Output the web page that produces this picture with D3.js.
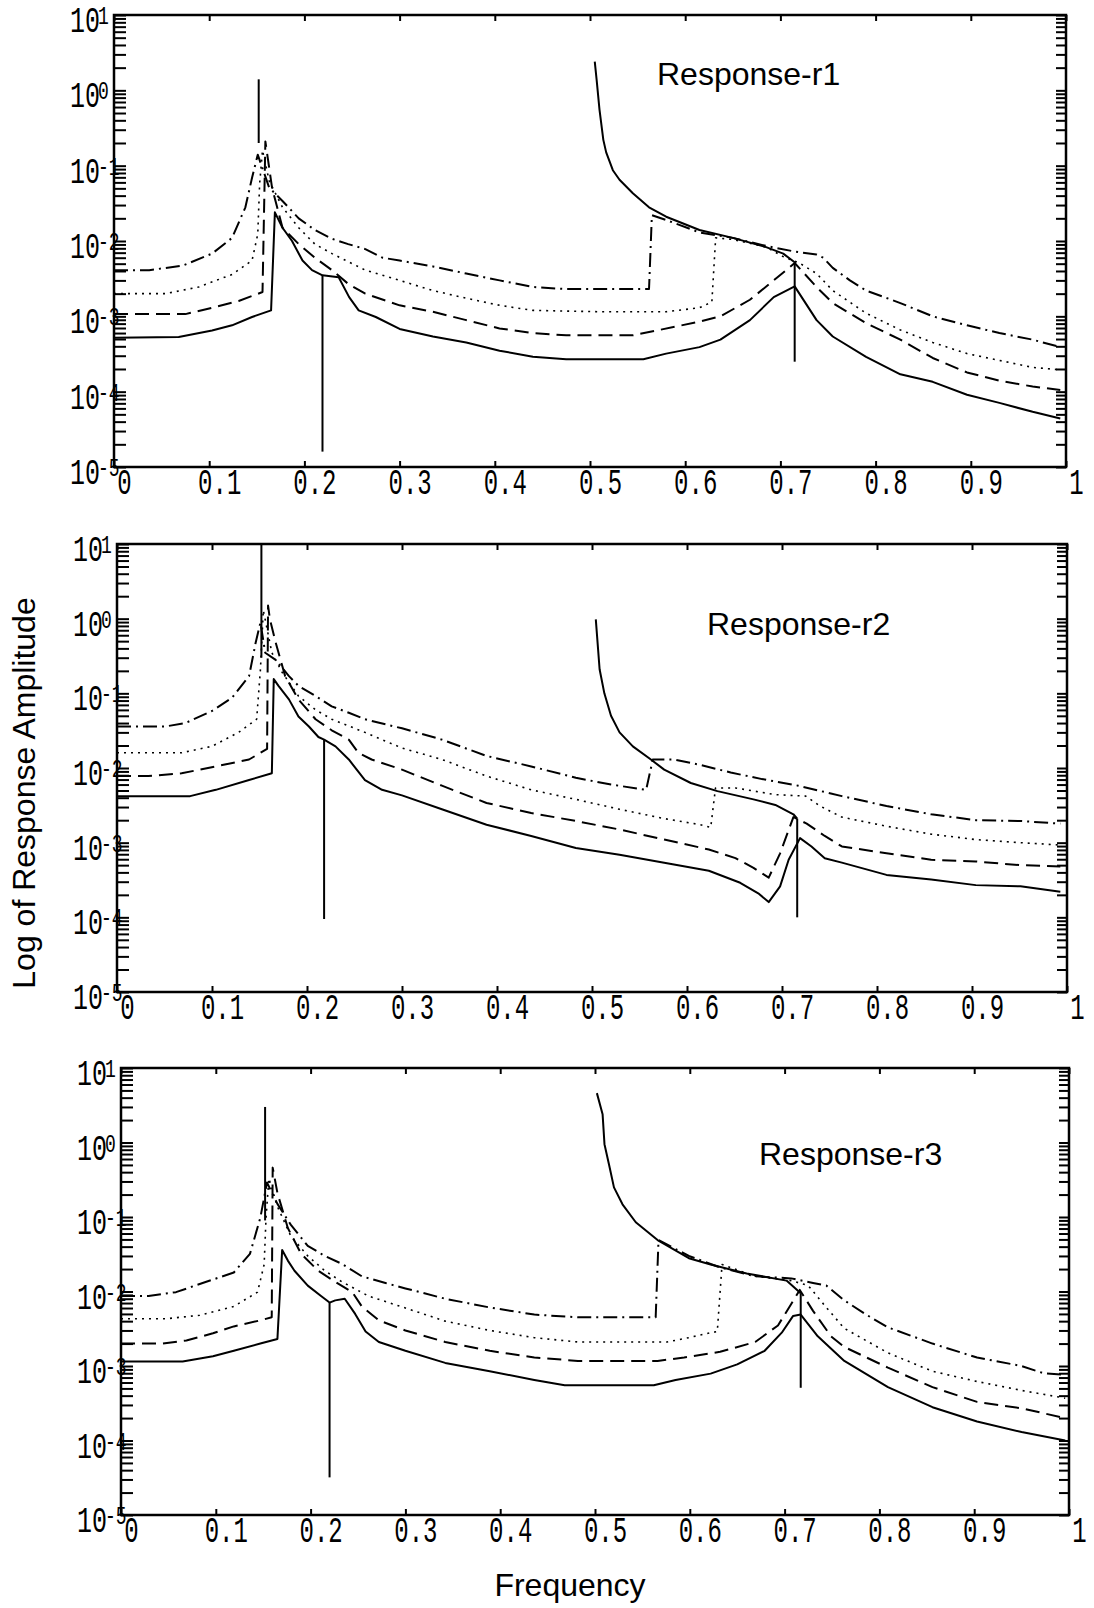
<!DOCTYPE html>
<html>
<head>
<meta charset="utf-8">
<script src="https://cdn.jsdelivr.net/npm/d3@7"></script>
<style>
  body { margin: 0; background: #fff; }
</style>
</head>
<body>
<div id="chart-area"></div>
<script>
/*
*    three response spectra, log amplitude vs frequency
*/

var xTicks = [0, 0.1, 0.2, 0.3, 0.4, 0.5, 0.6, 0.7, 0.8, 0.9, 1];
var xTickLabels = ["0", "0.1", "0.2", "0.3", "0.4", "0.5", "0.6", "0.7", "0.8", "0.9", "1"];
var yDecades = [10, 1, 0.1, 0.01, 0.001, 0.0001, 0.00001];
var yExponents = ["1", "0", "-1", "-2", "-3", "-4", "-5"];
var panelTitles = ["Response-r1", "Response-r2", "Response-r3"];

// [frequency, amplitude]
var r1Solid = [[0,5.2e-4],[0.068,5.3e-4],[0.103,6.5e-4],[0.124,7.6e-4],[0.145,9.8e-4],[0.165,1.2e-3],[0.169,2.4e-2],[0.177,1.5e-2],[0.187,1.0e-2],[0.198,5.5e-3],[0.208,4.1e-3],[0.219,3.5e-3],[0.236,3.3e-3],[0.247,1.8e-3],[0.257,1.2e-3],[0.275,9.8e-4],[0.3,6.8e-4],[0.335,5.4e-4],[0.37,4.5e-4],[0.405,3.5e-4],[0.44,2.9e-4],[0.475,2.7e-4],[0.51,2.7e-4],[0.556,2.7e-4],[0.58,3.2e-4],[0.615,3.9e-4],[0.637,4.9e-4],[0.668,8.9e-4],[0.693,1.8e-3],[0.715,2.5e-3],[0.738,8.9e-4],[0.755,5.4e-4],[0.79,2.9e-4],[0.826,1.7e-4],[0.86,1.35e-4],[0.896,9.1e-5],[0.93,7.1e-5],[0.965,5.4e-5],[0.994,4.4e-5]];
var r1Dashed = [[0,1.07e-3],[0.075,1.07e-3],[0.103,1.3e-3],[0.131,1.6e-3],[0.156,2.1e-3],[0.159,0.21],[0.166,5.1e-2],[0.177,1.5e-2],[0.194,9.1e-3],[0.211,6.0e-3],[0.229,4.1e-3],[0.246,2.7e-3],[0.264,2.0e-3],[0.3,1.4e-3],[0.335,1.15e-3],[0.37,8.9e-4],[0.405,6.9e-4],[0.44,6.0e-4],[0.475,5.6e-4],[0.545,5.6e-4],[0.573,6.6e-4],[0.615,8.5e-4],[0.637,1.0e-3],[0.668,1.66e-3],[0.693,3.0e-3],[0.715,5.1e-3],[0.738,2.45e-3],[0.755,1.5e-3],[0.79,8.1e-4],[0.826,4.9e-4],[0.86,2.8e-4],[0.896,1.8e-4],[0.93,1.4e-4],[0.965,1.17e-4],[0.994,1.05e-4]];
var r1Dotted = [[0,2.0e-3],[0.054,2.0e-3],[0.089,2.45e-3],[0.124,3.6e-3],[0.145,5.5e-3],[0.151,1.23e-2],[0.153,5.8e-2],[0.156,0.16],[0.163,6.3e-2],[0.177,2.8e-2],[0.194,1.5e-2],[0.211,9.1e-3],[0.229,6.8e-3],[0.264,4.1e-3],[0.3,3.0e-3],[0.335,2.2e-3],[0.37,1.74e-3],[0.405,1.4e-3],[0.44,1.2e-3],[0.51,1.15e-3],[0.58,1.15e-3],[0.615,1.3e-3],[0.628,1.55e-3],[0.632,1.1e-2],[0.65,1.05e-2],[0.685,8.3e-3],[0.703,6.2e-3],[0.72,5.1e-3],[0.738,3.7e-3],[0.755,2.2e-3],[0.79,1.1e-3],[0.826,6.6e-4],[0.86,4.5e-4],[0.896,3.2e-4],[0.93,2.6e-4],[0.965,2.1e-4],[0.994,1.95e-4]];
var r1DashDot = [[0,4.1e-3],[0.037,4.1e-3],[0.072,4.7e-3],[0.103,6.8e-3],[0.124,1.1e-2],[0.138,2.8e-2],[0.145,6.9e-2],[0.151,0.14],[0.163,5.1e-2],[0.177,3.4e-2],[0.194,2.0e-2],[0.211,1.4e-2],[0.229,1.07e-2],[0.246,9.1e-3],[0.264,7.8e-3],[0.282,6.0e-3],[0.3,5.5e-3],[0.335,4.6e-3],[0.37,3.7e-3],[0.405,3.0e-3],[0.44,2.45e-3],[0.475,2.3e-3],[0.562,2.3e-3],[0.565,2.2e-2],[0.58,1.9e-2],[0.615,1.3e-2],[0.65,1.1e-2],[0.685,8.6e-3],[0.716,7.2e-3],[0.738,6.6e-3],[0.745,6.0e-3],[0.755,4.4e-3],[0.773,3.0e-3],[0.79,2.2e-3],[0.826,1.5e-3],[0.86,1.0e-3],[0.896,7.6e-4],[0.93,6.0e-4],[0.965,4.9e-4],[0.994,3.9e-4]];
var r1Branch = [[0.505,2.4],[0.507,1.37],[0.51,0.55],[0.514,0.22],[0.517,0.15],[0.524,8.7e-2],[0.531,6.5e-2],[0.545,4.3e-2],[0.562,2.8e-2],[0.58,2.1e-2],[0.615,1.4e-2],[0.65,1.1e-2],[0.685,8.3e-3],[0.703,6.8e-3],[0.716,5.1e-3]];
// [frequency, top, bottom]
var r1Spikes = [[0.152,1.4,0.2],[0.219,3.5e-3,1.6e-5],[0.715,5.1e-3,2.5e-4]];

var r2Solid = [[0,4.2e-3],[0.077,4.2e-3],[0.104,5.1e-3],[0.139,6.9e-3],[0.163,8.5e-3],[0.165,0.155],[0.17,0.126],[0.181,8.3e-2],[0.191,4.9e-2],[0.202,3.6e-2],[0.212,2.6e-2],[0.218,2.4e-2],[0.23,1.95e-2],[0.244,1.3e-2],[0.261,6.9e-3],[0.279,5.1e-3],[0.3,4.3e-3],[0.342,2.8e-3],[0.389,1.74e-3],[0.436,1.23e-3],[0.483,8.5e-4],[0.529,6.9e-4],[0.576,5.4e-4],[0.623,4.2e-4],[0.656,2.9e-4],[0.675,2.1e-4],[0.686,1.6e-4],[0.698,2.6e-4],[0.707,5.9e-4],[0.719,1.15e-3],[0.731,8.9e-4],[0.745,6.2e-4],[0.763,5.4e-4],[0.81,3.7e-4],[0.857,3.2e-4],[0.904,2.7e-4],[0.951,2.6e-4],[0.993,2.2e-4]];
var r2Dashed = [[0,7.8e-3],[0.033,7.8e-3],[0.068,8.5e-3],[0.104,1.05e-2],[0.139,1.3e-2],[0.158,1.8e-2],[0.159,1.5],[0.161,0.98],[0.167,0.48],[0.177,0.17],[0.191,8.3e-2],[0.209,4.5e-2],[0.226,3.2e-2],[0.244,2.4e-2],[0.254,1.6e-2],[0.268,1.3e-2],[0.3,9.5e-3],[0.342,5.8e-3],[0.389,3.4e-3],[0.436,2.5e-3],[0.483,1.95e-3],[0.529,1.5e-3],[0.576,1.1e-3],[0.623,8.1e-4],[0.651,6.2e-4],[0.67,4.6e-4],[0.686,3.4e-4],[0.698,7.2e-4],[0.712,2.2e-3],[0.726,1.8e-3],[0.745,1.23e-3],[0.763,8.9e-4],[0.81,7.2e-4],[0.857,5.9e-4],[0.904,5.6e-4],[0.951,5.0e-4],[0.993,4.8e-4]];
var r2Dotted = [[0,1.6e-2],[0.068,1.6e-2],[0.1,1.95e-2],[0.128,3.0e-2],[0.147,4.5e-2],[0.151,0.21],[0.154,1.3],[0.163,0.35],[0.174,0.19],[0.191,9.2e-2],[0.209,6.0e-2],[0.226,4.5e-2],[0.261,3.0e-2],[0.3,1.85e-2],[0.342,1.3e-2],[0.389,7.8e-3],[0.436,5.1e-3],[0.483,3.8e-3],[0.529,2.8e-3],[0.576,2.1e-3],[0.614,1.74e-3],[0.625,1.6e-3],[0.63,5.4e-3],[0.651,5.4e-3],[0.693,4.4e-3],[0.725,4.2e-3],[0.74,3.1e-3],[0.763,2.2e-3],[0.81,1.66e-3],[0.857,1.3e-3],[0.904,1.1e-3],[0.951,1.0e-3],[0.993,9.3e-4]];
var r2DashDot = [[0,3.6e-2],[0.051,3.6e-2],[0.072,4.0e-2],[0.1,5.8e-2],[0.121,8.7e-2],[0.139,0.17],[0.146,0.48],[0.151,0.89],[0.156,0.35],[0.167,0.28],[0.181,0.17],[0.191,0.126],[0.209,9.2e-2],[0.226,6.7e-2],[0.244,5.5e-2],[0.261,4.5e-2],[0.3,3.4e-2],[0.342,2.4e-2],[0.389,1.45e-2],[0.436,1.05e-2],[0.483,7.4e-3],[0.52,6.0e-3],[0.557,5.1e-3],[0.564,1.3e-2],[0.586,1.3e-2],[0.614,1.1e-2],[0.646,8.7e-3],[0.679,7.1e-3],[0.717,5.8e-3],[0.763,4.2e-3],[0.81,3.1e-3],[0.857,2.4e-3],[0.904,2.0e-3],[0.951,1.95e-3],[0.993,1.8e-3]];
var r2Branch = [[0.504,0.98],[0.508,0.21],[0.513,0.10],[0.52,5.0e-2],[0.529,3.0e-2],[0.543,1.95e-2],[0.562,1.3e-2],[0.576,9.5e-3],[0.604,6.3e-3],[0.632,4.9e-3],[0.67,3.8e-3],[0.693,3.2e-3],[0.712,2.4e-3],[0.716,2.1e-3]];
var r2Spikes = [[0.152,10,0.3],[0.218,2.4e-2,9.5e-5],[0.716,2.1e-3,1.0e-4]];

var r3Solid = [[0,1.15e-3],[0.065,1.15e-3],[0.097,1.35e-3],[0.119,1.6e-3],[0.147,2.0e-3],[0.165,2.3e-3],[0.17,3.6e-2],[0.176,2.6e-2],[0.183,1.9e-2],[0.197,1.2e-2],[0.211,8.7e-3],[0.22,7.1e-3],[0.226,7.6e-3],[0.236,8.0e-3],[0.247,5.0e-3],[0.258,2.9e-3],[0.272,2.1e-3],[0.3,1.6e-3],[0.342,1.1e-3],[0.389,8.5e-4],[0.436,6.5e-4],[0.468,5.5e-4],[0.562,5.5e-4],[0.585,6.5e-4],[0.622,7.9e-4],[0.65,1.05e-3],[0.679,1.6e-3],[0.697,2.8e-3],[0.709,4.7e-3],[0.717,4.9e-3],[0.735,2.5e-3],[0.763,1.17e-3],[0.809,5.2e-4],[0.856,2.8e-4],[0.903,1.8e-4],[0.95,1.3e-4],[0.996,1.0e-4]];
var r3Dashed = [[0,2.0e-3],[0.044,2.0e-3],[0.069,2.2e-3],[0.097,2.75e-3],[0.119,3.4e-3],[0.147,4.1e-3],[0.159,4.5e-3],[0.16,0.46],[0.165,0.21],[0.176,7.1e-2],[0.19,3.2e-2],[0.208,1.9e-2],[0.226,1.35e-2],[0.244,9.8e-3],[0.254,6.3e-3],[0.272,4.1e-3],[0.3,3.0e-3],[0.342,2.1e-3],[0.389,1.6e-3],[0.436,1.3e-3],[0.482,1.17e-3],[0.566,1.17e-3],[0.594,1.3e-3],[0.632,1.55e-3],[0.669,2.1e-3],[0.693,3.5e-3],[0.707,6.8e-3],[0.716,1.05e-2],[0.73,5.5e-3],[0.749,2.5e-3],[0.763,1.8e-3],[0.809,9.5e-4],[0.856,5.2e-4],[0.903,3.3e-4],[0.95,2.7e-4],[0.996,2.0e-4]];
var r3Dotted = [[0,4.3e-3],[0.047,4.3e-3],[0.083,4.8e-3],[0.119,6.3e-3],[0.144,9.8e-3],[0.151,2.3e-2],[0.153,9.8e-2],[0.156,0.33],[0.165,0.138],[0.179,5.6e-2],[0.197,3.0e-2],[0.215,1.9e-2],[0.233,1.35e-2],[0.261,8.7e-3],[0.3,6.0e-3],[0.342,4.0e-3],[0.389,3.0e-3],[0.436,2.4e-3],[0.482,2.1e-3],[0.576,2.1e-3],[0.599,2.4e-3],[0.622,2.8e-3],[0.629,2.9e-3],[0.634,2.3e-2],[0.669,1.6e-2],[0.707,1.4e-2],[0.725,1.2e-2],[0.744,6.1e-3],[0.763,3.2e-3],[0.809,1.5e-3],[0.856,8.5e-4],[0.903,6.2e-4],[0.95,4.7e-4],[0.996,3.7e-4]];
var r3DashDot = [[0,8.7e-3],[0.029,8.7e-3],[0.058,9.8e-3],[0.09,1.35e-2],[0.119,1.8e-2],[0.136,3.2e-2],[0.147,9.8e-2],[0.154,0.29],[0.165,0.15],[0.179,7.9e-2],[0.197,4.1e-2],[0.215,3.0e-2],[0.233,2.35e-2],[0.254,1.6e-2],[0.279,1.3e-2],[0.3,1.1e-2],[0.342,8.0e-3],[0.389,6.1e-3],[0.436,4.9e-3],[0.482,4.5e-3],[0.564,4.5e-3],[0.567,4.9e-2],[0.599,3.0e-2],[0.632,2.1e-2],[0.669,1.6e-2],[0.707,1.5e-2],[0.73,1.3e-2],[0.744,1.2e-2],[0.763,7.6e-3],[0.786,4.9e-3],[0.809,3.3e-3],[0.856,2.0e-3],[0.903,1.3e-3],[0.95,1.0e-3],[0.973,8.0e-4],[0.996,7.6e-4]];
var r3Branch = [[0.502,4.6],[0.508,2.4],[0.51,0.95],[0.515,0.49],[0.52,0.25],[0.529,0.148],[0.543,8.5e-2],[0.566,4.9e-2],[0.599,2.8e-2],[0.622,2.3e-2],[0.66,1.74e-2],[0.702,1.4e-2],[0.717,9.5e-3]];
var r3Spikes = [[0.152,3.0,0.09],[0.22,7.1e-3,3.2e-5],[0.717,9.5e-3,5.1e-4]];

var w = 1094;
var h = 1608;

var boxes = [
    { left: 114, top: 15, width: 952, height: 452, tx: 543, ty: 70 },
    { left: 117, top: 544, width: 950, height: 448, tx: 590, ty: 91 },
    { left: 121, top: 1068, width: 948, height: 447, tx: 638, ty: 97 }
];

var styles = {
    solid: { dash: null, width: 2 },
    dashed: { dash: "14,7", width: 2 },
    dotted: { dash: "2,5", width: 1.6 },
    dashdot: { dash: "14,5,2,5", width: 2 }
};

var panels = [
    { series: [["dashdot", r1DashDot], ["dotted", r1Dotted], ["dashed", r1Dashed], ["solid", r1Solid], ["solid", r1Branch]], spikes: r1Spikes },
    { series: [["dashdot", r2DashDot], ["dotted", r2Dotted], ["dashed", r2Dashed], ["solid", r2Solid], ["solid", r2Branch]], spikes: r2Spikes },
    { series: [["dashdot", r3DashDot], ["dotted", r3Dotted], ["dashed", r3Dashed], ["solid", r3Solid], ["solid", r3Branch]], spikes: r3Spikes }
];

var svg = d3.select("#chart-area").append("svg")
    .attr("width", w)
    .attr("height", h);

var monoFont = "'Liberation Mono', 'Courier New', monospace";
var sansFont = "'Liberation Sans', Arial, Helvetica, sans-serif";

panels.forEach((p, i) => {
    var b = boxes[i];
    var group = svg.append("g")
        .attr("transform", "translate(" + b.left + ", " + b.top + ")");

    var x = d3.scaleLinear().domain([0, 1]).range([0, b.width]);
    var y = d3.scaleLog().domain([1e-5, 10]).range([b.height, 0]);

    var line = d3.line()
        .x((d) => { return x(d[0]); })
        .y((d) => { return y(d[1]); });

    p.series.forEach((s) => {
        var st = styles[s[0]];
        group.append("path")
            .datum(s[1])
            .attr("d", line)
            .attr("fill", "none")
            .attr("stroke", "#000")
            .attr("stroke-width", st.width)
            .attr("stroke-dasharray", st.dash)
            .attr("stroke-linejoin", "round");
    });

    group.selectAll(".spike")
        .data(p.spikes)
        .enter()
        .append("path")
            .attr("class", "spike")
            .attr("d", (d) => { return line([[d[0], d[1]], [d[0], d[2]]]); })
            .attr("fill", "none")
            .attr("stroke", "#000")
            .attr("stroke-width", 2);

    // ticks point inward on all four sides
    var bottom = group.append("g")
        .attr("transform", "translate(0, " + b.height + ")")
        .call(d3.axisBottom(x).tickValues(xTicks).tickSize(-6)
            .tickFormat((d, k) => { return xTickLabels[k]; }));
    var top = group.append("g")
        .call(d3.axisTop(x).tickValues(xTicks).tickSize(-6).tickFormat(""));
    var left = group.append("g")
        .call(d3.axisLeft(y).tickValues(y.ticks()).tickSize(-12).tickFormat(""));
    var right = group.append("g")
        .attr("transform", "translate(" + b.width + ", 0)")
        .call(d3.axisRight(y).tickValues(y.ticks()).tickSize(-10).tickFormat(""));

    [bottom, top, left, right].forEach((a) => {
        a.select(".domain").remove();
        a.selectAll("line").attr("stroke", "#000").attr("stroke-width", 2);
    });

    bottom.selectAll("text")
        .attr("y", 0)
        .attr("dy", null)
        .attr("fill", "#000")
        .attr("font-family", monoFont)
        .attr("font-size", "24px")
        .attr("transform", "translate(10, 27) scale(1, 1.55)");

    group.append("rect")
        .attr("width", b.width)
        .attr("height", b.height)
        .attr("fill", "none")
        .attr("stroke", "#000")
        .attr("stroke-width", 2.5);

    // "10" with its exponent as one text, exponent tucked against the axis
    yDecades.forEach((v, k) => {
        var lab = group.append("text")
            .attr("transform", "translate(-44, " + (y(v) + 17) + ") scale(1, 1.45)")
            .attr("font-family", monoFont)
            .attr("fill", "#000");
        lab.append("tspan")
            .attr("font-size", "25px")
            .text("10");
        lab.append("tspan")
            .attr("font-size", "18px")
            .attr("dx", -2)
            .attr("dy", -5.5)
            .text(yExponents[k]);
    });

    group.append("text")
        .attr("x", b.tx)
        .attr("y", b.ty)
        .attr("font-family", sansFont)
        .attr("font-size", "32px")
        .attr("fill", "#000")
        .text(panelTitles[i]);
});

svg.append("text")
    .attr("class", "y axis-label")
    .attr("transform", "translate(35, 793) rotate(-90)")
    .attr("text-anchor", "middle")
    .attr("font-family", sansFont)
    .attr("font-size", "32px")
    .attr("fill", "#000")
    .text("Log of Response Amplitude");

svg.append("text")
    .attr("class", "x axis-label")
    .attr("x", 570)
    .attr("y", 1596)
    .attr("text-anchor", "middle")
    .attr("font-family", sansFont)
    .attr("font-size", "32px")
    .attr("fill", "#000")
    .text("Frequency");
</script>
</body>
</html>
